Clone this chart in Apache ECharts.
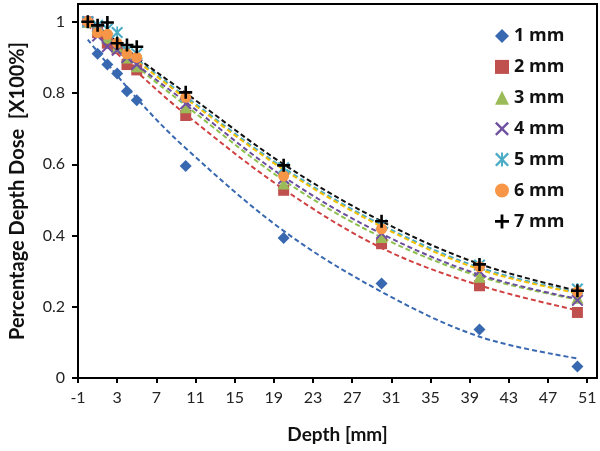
<!DOCTYPE html>
<html><head><meta charset="utf-8">
<script src="https://cdn.jsdelivr.net/npm/echarts@6/dist/echarts.min.js"></script>
<style>html,body{margin:0;padding:0;background:#fff}#c{width:600px;height:451px}</style>
</head><body><div id="c"></div>
<script>
// ---- data ----
const depths = [0, 1, 2, 3, 4, 5, 10, 20, 30, 40, 50];
const mm1 = [1.00, 0.91, 0.88, 0.855, 0.805, 0.78, 0.595, 0.393, 0.265, 0.136, 0.032];
const mm2 = [1.00, 0.97, 0.94, 0.925, 0.88, 0.865, 0.737, 0.527, 0.377, 0.259, 0.184];
const mm3 = [1.00, 0.98, 0.955, 0.93, 0.90, 0.875, 0.76, 0.546, 0.396, 0.284, 0.225];
const mm4 = [1.00, 0.96, 0.93, 0.92, 0.90, 0.88, 0.77, 0.56, 0.406, 0.30, 0.218];
const mm5 = [1.00, 0.99, 0.98, 0.97, 0.92, 0.91, 0.79, 0.59, 0.43, 0.317, 0.25];
const mm6 = [1.00, 0.97, 0.965, 0.94, 0.91, 0.90, 0.788, 0.567, 0.419, 0.312, 0.242];
const mm7 = [1.00, 0.99, 0.998, 0.94, 0.935, 0.93, 0.802, 0.597, 0.44, 0.319, 0.245];

// dashed trend lines
const trendDepths = [0, 5, 10, 20, 30, 40, 50];
const tr1 = [0.95, 0.785, 0.645, 0.413, 0.242, 0.116, 0.055];
const tr2 = [0.99, 0.86, 0.74, 0.53, 0.365, 0.26, 0.19];
const tr3 = [1.00, 0.875, 0.765, 0.555, 0.395, 0.285, 0.22];
const tr4 = [1.00, 0.88, 0.775, 0.565, 0.405, 0.29, 0.222];
const tr5 = [1.00, 0.895, 0.79, 0.59, 0.43, 0.31, 0.24];
const tr6 = [1.00, 0.89, 0.785, 0.585, 0.425, 0.305, 0.238];
const tr7 = [1.01, 0.90, 0.80, 0.60, 0.44, 0.32, 0.245];

const seriesNames = ['1 mm', '2 mm', '3 mm', '4 mm', '5 mm', '6 mm', '7 mm'];
const xTickLabels = [-1, 3, 7, 11, 15, 19, 23, 27, 31, 35, 39, 43, 47, 51];
const yTickLabels = [0, 0.2, 0.4, 0.6, 0.8, 1];

// ---- styling ----
const values = [mm1, mm2, mm3, mm4, mm5, mm6, mm7];
const trends = [tr1, tr2, tr3, tr4, tr5, tr6, tr7];
const markerColors = ['#3868B0', '#C0504D', '#9BBB59', '#7050A0', '#4BACC6', '#F79646', '#000000'];
const trendColors = ['#3868B0', '#D04040', '#8CC04C', '#6A4C9C', '#4BACC6', '#F5C000', '#111111'];
const X_PATH = 'path://M0,1.2 L1.2,0 L5,3.8 L8.8,0 L10,1.2 L6.2,5 L10,8.8 L8.8,10 L5,6.2 L1.2,10 L0,8.8 L3.8,5 Z';
const AST_PATH = 'path://M0,1.2 L1.2,0 L5,3.8 L8.8,0 L10,1.2 L6.2,5 L10,8.8 L8.8,10 L5,6.2 L1.2,10 L0,8.8 L3.8,5 Z M4.3,0 L5.7,0 L5.7,10 L4.3,10 Z';
const PLUS_PATH = 'path://M4,0 L6,0 L6,4 L10,4 L10,6 L6,6 L6,10 L4,10 L4,6 L0,6 L0,4 L4,4 Z';
const symbols = ['diamond', 'rect', 'triangle', X_PATH, AST_PATH, 'circle', PLUS_PATH];
const sizes = [12, 11, 12, 12, 12, 11, 13];

const FONT = 'Lato, "Open Sans", sans-serif';

const series = [];
trends.forEach((t, i) => {
  series.push({
    name: seriesNames[i] + ' trend',
    type: 'line',
    data: trendDepths.map((d, k) => [d, t[k]]),
    smooth: 0.35,
    showSymbol: false,
    symbol: 'none',
    silent: true,
    z: 2,
    lineStyle: { color: trendColors[i], width: 2, type: [5, 3] }
  });
});
values.forEach((v, i) => {
  series.push({
    name: seriesNames[i],
    type: 'scatter',
    data: depths.map((d, k) => [d, v[k]]),
    symbol: symbols[i],
    symbolSize: sizes[i],
    z: 3 + i,
    itemStyle: { color: markerColors[i], opacity: 1 }
  });
});

const chart = echarts.init(document.getElementById('c'), null, { renderer: 'canvas' });
chart.setOption({
  animation: false,
  backgroundColor: '#ffffff',
  grid: { left: 77, right: 3, top: 4, bottom: 73, show: true, borderColor: '#000', borderWidth: 2, containLabel: false },
  legend: {
    data: seriesNames,
    orient: 'vertical',
    left: 495,
    top: 27,
    padding: 0,
    itemWidth: 14,
    itemHeight: 14,
    itemGap: 12.9,
    textStyle: { fontFamily: '"Open Sans", Lato, sans-serif', fontWeight: 'bold', fontSize: 18, color: '#111' }
  },
  xAxis: {
    type: 'value',
    min: -1, max: 52, interval: 4,
    name: 'Depth [mm]',
    nameLocation: 'middle',
    nameGap: 47,
    nameTextStyle: { fontFamily: FONT, fontWeight: 'bold', fontSize: 19, color: '#111' },
    axisLine: { show: true, onZero: false, lineStyle: { color: '#000', width: 2 } },
    axisTick: { show: true, length: 5, lineStyle: { color: '#000', width: 2 } },
    axisLabel: {
      fontFamily: FONT, fontSize: 16, color: '#222', margin: 12,
      showMaxLabel: false,
      formatter: v => xTickLabels.includes(Math.round(v)) ? String(Math.round(v)) : ''
    },
    splitLine: { show: false }
  },
  yAxis: {
    type: 'value',
    min: 0, max: 1.05, interval: 0.2,
    name: 'Percentage Depth Dose  [X100%]',
    nameLocation: 'middle',
    nameGap: 50,
    nameTextStyle: { fontFamily: FONT, fontWeight: 'bold', fontSize: 20, color: '#111' },
    axisLine: { show: true, onZero: false, lineStyle: { color: '#000', width: 2 } },
    axisTick: { show: true, length: 6, lineStyle: { color: '#000', width: 2 } },
    axisLabel: {
      fontFamily: FONT, fontSize: 16, color: '#222', margin: 13,
      showMaxLabel: false,
      formatter: v => {
        const r = Math.round(v * 10) / 10;
        return yTickLabels.some(t => Math.abs(t - v) < 1e-6) ? String(r) : '';
      }
    },
    splitLine: { show: false }
  },
  series: series
});
</script>
</body></html>
